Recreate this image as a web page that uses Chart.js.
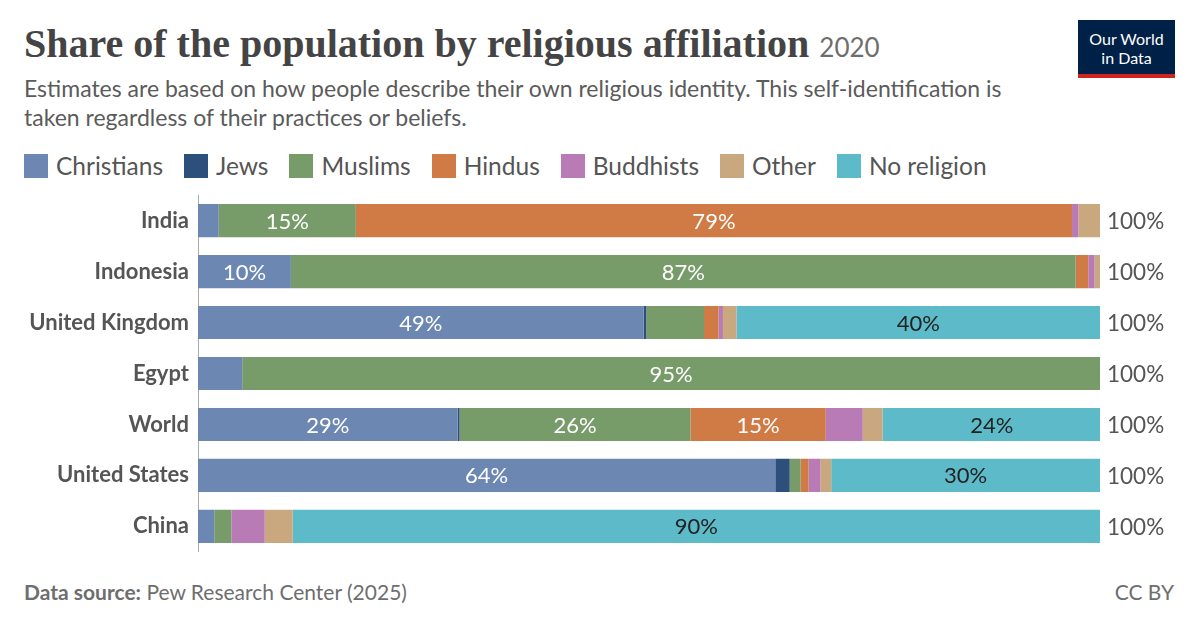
<!DOCTYPE html>
<html><head><meta charset="utf-8">
<script src="https://cdn.jsdelivr.net/npm/chart.js@4/dist/chart.umd.min.js"></script>
<style>
body{margin:0;width:1200px;height:627px;background:#fff;font-family:Lato,sans-serif;position:relative;overflow:hidden}
#title{position:absolute;left:24px;top:20px;font-family:"Liberation Serif",serif;font-size:40px;font-weight:bold;color:#444}
#title span{font-family:Lato,sans-serif;font-weight:normal;font-size:26px;color:#6e6e6e}
#sub{position:absolute;left:24px;top:74px;font-size:23px;color:#5b5b5b;line-height:29px;width:1035px}
#logo{position:absolute;left:1078px;top:20px;width:97px;height:58px;background:#002147;color:#fff;font-size:16px;text-align:center;line-height:19px;box-sizing:border-box;padding-top:9px;border-bottom:4px solid #ce261e}
#legend{position:absolute;left:24px;top:151px;font-size:24.5px;color:#555;display:flex}
#legend div{display:flex;align-items:center;margin-right:21px}
#legend i{display:inline-block;width:24px;height:24px;margin-right:8px}
#foot{position:absolute;left:24px;top:579px;font-size:21px;color:#6e6e6e}
#cc{position:absolute;right:26px;top:579px;font-size:21px;color:#6e6e6e}
#wrap{position:absolute;left:0;top:181px;width:1200px;height:385px}
</style></head><body>
<div id="title">Share of the population by religious affiliation <span>2020</span></div>
<div id="sub">Estimates are based on how people describe their own religious identity. This self-identification is taken regardless of their practices or beliefs.</div>
<div id="logo">Our World<br>in Data</div>
<div id="legend"></div>
<div id="wrap"><canvas id="c"></canvas></div>
<div id="foot"><b>Data source:</b> Pew Research Center (2025)</div>
<div id="cc">CC BY</div>
<script>
const countries=["India","Indonesia","United Kingdom","Egypt","World","United States","China"];
const seriesNames=["Christians","Jews","Muslims","Hindus","Buddhists","Other","No religion"];
const christians=[2.3,10.3,49.4,4.9,28.8,64.0,1.8];
const jews=[0,0,0.3,0,0.2,1.6,0];
const muslims=[15.2,87.0,6.4,95.1,25.6,1.2,1.9];
const hindus=[79.4,1.4,1.6,0,15.0,0.9,0];
const buddhists=[0.7,0.7,0.5,0,4.1,1.3,3.7];
const other=[2.4,0.6,1.5,0,2.2,1.2,3.1];
const noReligion=[0,0,40.3,0,24.2,29.8,89.5];
const colors=["#6d87b3","#2c4f7c","#789b6a","#d07a45","#b87bb6","#c9a87f","#5dbbc9"];
const allData=[christians,jews,muslims,hindus,buddhists,other,noReligion];
const lg=document.getElementById('legend');
seriesNames.forEach((n,i)=>{lg.innerHTML+=`<div><i style="background:${colors[i]}"></i>${n}</div>`});
const labelPlugin={id:'lbl',afterDatasetsDraw(ch){
 const ctx=ch.ctx;ctx.save();ctx.font='22px Lato';ctx.textBaseline='middle';
 ch.data.datasets.forEach((ds,di)=>{ch.getDatasetMeta(di).data.forEach((b,i)=>{
  const v=ds.data[i];if(v<9.5)return;
  ctx.fillStyle=di===6?'#222':'#fff';ctx.textAlign='center';
  ctx.fillText(Math.round(v)+'%',(b.x+b.base)/2,b.y+1);});});
 const m=ch.getDatasetMeta(0);ctx.fillStyle='#555';ctx.textAlign='left';ctx.font='22.5px Lato';
 m.data.forEach(b=>ctx.fillText('100%',ch.scales.x.getPixelForValue(100)+7,b.y+1));
 ctx.restore();}};
new Chart(document.getElementById('c'),{type:'bar',
 data:{labels:countries,datasets:seriesNames.map((n,i)=>({label:n,data:allData[i],backgroundColor:colors[i],barPercentage:0.65,categoryPercentage:1}))},
 options:{indexAxis:'y',responsive:true,maintainAspectRatio:false,animation:false,
  layout:{padding:{left:0,right:100,top:0,bottom:0}},
  plugins:{legend:{display:false},tooltip:{enabled:false}},
  scales:{x:{stacked:true,min:0,max:100,display:false},
   y:{stacked:true,grid:{display:false},border:{color:'#aaa'},afterFit(s){s.width=198},
     ticks:{color:'#555',font:{family:'Lato',size:22,weight:'bold'},padding:1}}}},
 plugins:[labelPlugin]});
</script></body></html>
